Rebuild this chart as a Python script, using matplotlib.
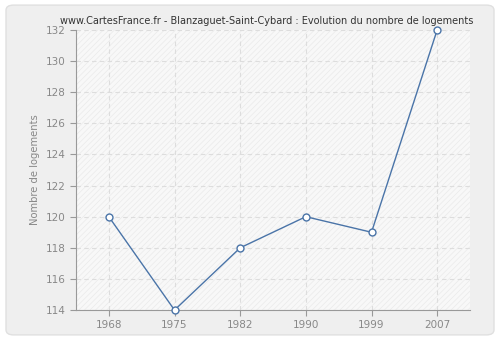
import matplotlib
matplotlib.use("Agg")
import matplotlib.pyplot as plt
from matplotlib.patches import FancyBboxPatch, Rectangle

years = ["1968", "1975", "1982", "1990", "1999", "2007"]
values = [120, 114, 118, 120, 119, 132]
yticks = [114, 116, 118, 120, 122, 124, 126, 128, 130, 132]

plt.rcParams['hatch.linewidth'] = 0.5
plt.rcParams['font.family'] = ['DejaVu Sans']

fig = plt.figure(figsize=(5, 3.4), dpi=100)
fig.patch.set_facecolor('white')
bg = FancyBboxPatch((0.012, 0.015), 0.976, 0.97, boxstyle="round,pad=0,rounding_size=0.015",
                    transform=fig.transFigure, facecolor='#efefef', edgecolor='#e0e0e0',
                    linewidth=1, zorder=-10)
fig.add_artist(bg)

ax = fig.add_axes([0.152, 0.088, 0.788, 0.824])
ax.set_zorder(1)
ax.set_facecolor('#f8f8f8')
ax.add_patch(Rectangle((0, 0), 1, 1, transform=ax.transAxes, facecolor='none',
                       edgecolor='#eaeaea', hatch='//////', linewidth=0, zorder=0))

x = list(range(len(years)))
ax.plot(x, values, color='#4a74a8', linewidth=1, marker='o', markersize=5,
        markerfacecolor='white', markeredgecolor='#4a74a8', markeredgewidth=1, zorder=3,
        clip_on=False)

ax.set_xlim(-0.5, len(years) - 0.5)
ax.set_ylim(114, 132)
ax.set_xticks(x)
ax.set_xticklabels(years)
ax.set_yticks(yticks)
ax.grid(True, color='#dddddd', linestyle=(0, (4, 3)), linewidth=0.8)
ax.set_axisbelow(True)
for s in ['top', 'right']:
    ax.spines[s].set_visible(False)
for s in ['left', 'bottom']:
    ax.spines[s].set_color('#999999')
ax.tick_params(colors='#999999', labelcolor='#888888', labelsize=7.5, length=4, width=0.8)
ax.set_ylabel('Nombre de logements', color='#888888', fontsize=7.2)
fig.text(0.534, 0.925, 'www.CartesFrance.fr - Blanzaguet-Saint-Cybard : Evolution du nombre de logements',
         fontsize=7.0, color='#333333', ha='center', va='bottom')

fig.savefig('out.png', dpi=100, facecolor=fig.get_facecolor())
